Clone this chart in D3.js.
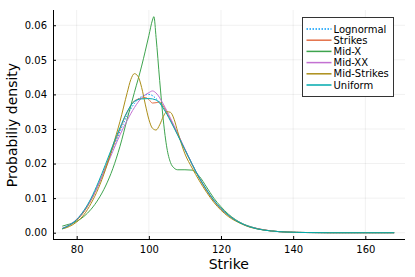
<!DOCTYPE html>
<html>
<head>
<meta charset="utf-8">
<script src="https://cdn.jsdelivr.net/npm/d3@7"></script>
<style>
  body { margin: 0; background: #fff; }
  svg { display: block; font-family: "DejaVu Sans", sans-serif; }
</style>
</head>
<body>
<div id="chart"></div>
<script>
const seriesNames = ["Lognormal", "Strikes", "Mid-X", "Mid-XX", "Mid-Strikes", "Uniform"];
const seriesColors = ["#009afa", "#e36f47", "#3ea44e", "#c371d2", "#ac8e18", "#00aaae"];

// density curves, [strike, density]
const lognormal = [[76,0.0011],[78,0.0021],[80,0.0037],[82,0.0061],[84,0.0095],[86,0.0138],[88,0.0188],[90,0.0241],[92,0.0293],[94,0.0339],[96,0.0374],[98,0.0394],[100,0.0400],[102,0.0388],[104,0.0362],[106,0.0327],[108,0.0285],[110,0.0241],[112,0.0198],[114,0.0158],[116,0.0123],[118,0.0093],[120,0.0070],[122,0.0051],[124,0.0037],[126,0.0026],[128,0.0018],[130,0.0012],[134,0.0005],[138,0.0002],[144,0.00005],[150,0],[160,0],[168,0]];
const strikes = [[76,0.0012],[78,0.0021],[80,0.0036],[82,0.0060],[84,0.0094],[86,0.0138],[88,0.0190],[90,0.0246],[92,0.0300],[94,0.0349],[96,0.0381],[98,0.0389],[99,0.0391],[100,0.0385],[101,0.0375],[102,0.0376],[103,0.0378],[104,0.0366],[106,0.0326],[108,0.0284],[110,0.0240],[112,0.0197],[114,0.0157],[116,0.0122],[118,0.0092],[120,0.0069],[122,0.0050],[124,0.0036],[126,0.0025],[128,0.0017],[130,0.0012],[134,0.0005],[138,0.0002],[144,0.00005],[150,0],[160,0],[168,0]];
const midX = [[76,0.0019],[78,0.0025],[80,0.0033],[82,0.0047],[84,0.0068],[86,0.0097],[88,0.0135],[90,0.0185],[92,0.0250],[94,0.0329],[96,0.0406],[98,0.0482],[99,0.0525],[100,0.0570],[101,0.0615],[101.4,0.0625],[102,0.0565],[103,0.0440],[104,0.0326],[105,0.0245],[106,0.0203],[107,0.0187],[108,0.0182],[110,0.0182],[112,0.0181],[114,0.0163],[116,0.0132],[118,0.0100],[120,0.0075],[122,0.0054],[124,0.0038],[126,0.0026],[128,0.0018],[130,0.0012],[134,0.0005],[138,0.0002],[144,0.00005],[150,0],[160,0],[168,0]];
const midXX = [[76,0.0013],[78,0.0023],[80,0.0039],[82,0.0064],[84,0.0097],[86,0.0139],[88,0.0186],[90,0.0235],[92,0.0283],[94,0.0325],[96,0.0362],[98,0.0390],[100,0.0405],[101,0.0410],[102,0.0404],[104,0.0372],[106,0.0331],[108,0.0287],[110,0.0242],[112,0.0199],[114,0.0159],[116,0.0124],[118,0.0094],[120,0.0070],[122,0.0051],[124,0.0036],[126,0.0025],[128,0.0017],[130,0.0012],[134,0.0005],[138,0.0002],[144,0.00005],[150,0],[160,0],[168,0]];
const midStrikes = [[76,0.0011],[78,0.0018],[80,0.0031],[82,0.0052],[84,0.0085],[86,0.0128],[88,0.0183],[90,0.0250],[92,0.0322],[94,0.0405],[95,0.0443],[96,0.0460],[97,0.0452],[98,0.0420],[99,0.0372],[100,0.0328],[101,0.0302],[102,0.0297],[103,0.0312],[104,0.0336],[105,0.0350],[106,0.0348],[107,0.0328],[108,0.0292],[110,0.0228],[112,0.0187],[114,0.0150],[116,0.0117],[118,0.0088],[120,0.0065],[122,0.0047],[124,0.0034],[126,0.0024],[128,0.0016],[130,0.0011],[134,0.0005],[138,0.0002],[144,0.00005],[150,0],[160,0],[168,0]];
const uniform = [[76,0.0012],[78,0.0022],[80,0.0038],[82,0.0064],[84,0.0100],[86,0.0146],[88,0.0198],[90,0.0252],[92,0.0304],[94,0.0350],[96,0.0380],[98,0.0387],[100,0.0388],[102,0.0384],[104,0.0360],[106,0.0323],[108,0.0282],[110,0.0240],[112,0.0198],[114,0.0158],[116,0.0124],[118,0.0094],[120,0.0070],[122,0.0051],[124,0.0036],[126,0.0025],[128,0.0017],[130,0.0011],[134,0.0005],[138,0.0002],[144,0.00005],[150,0],[160,0],[168,0]];

const xTicks = [80, 100, 120, 140, 160];
const yTicks = [0, 0.01, 0.02, 0.03, 0.04, 0.05, 0.06];

const allSeries = [lognormal, strikes, midX, midXX, midStrikes, uniform];

const width = 415;
const height = 277;
const margin = {top: 10, right: 10, bottom: 38, left: 53};

const svg = d3.select("#chart").append("svg")
    .attr("width", width)
    .attr("height", height);

svg.append("rect").attr("width", width).attr("height", height).attr("fill", "#fff");

const x = d3.scaleLinear()
    .domain([73.43, 171.0])
    .range([margin.left, width - margin.right]);

const y = d3.scaleLinear()
    .domain([-0.00182, 0.06441])
    .range([height - margin.bottom, margin.top]);

// grid
svg.append("g")
    .selectAll("line")
    .data(xTicks)
    .join("line")
    .attr("x1", d => x(d)).attr("x2", d => x(d))
    .attr("y1", margin.top).attr("y2", height - margin.bottom)
    .attr("stroke", "#000").attr("stroke-opacity", 0.1).attr("stroke-width", 0.6);

svg.append("g")
    .selectAll("line")
    .data(yTicks)
    .join("line")
    .attr("x1", margin.left).attr("x2", width - margin.right)
    .attr("y1", d => y(d)).attr("y2", d => y(d))
    .attr("stroke", "#000").attr("stroke-opacity", 0.1).attr("stroke-width", 0.6);

// axes
const xAxis = g => g
    .attr("transform", `translate(0,${height - margin.bottom})`)
    .call(d3.axisBottom(x).tickValues(xTicks).tickSizeInner(-3).tickSizeOuter(0).tickPadding(7))
    .call(g => g.select(".domain").attr("d", `M${margin.left},0.5H${width - margin.right}`).attr("stroke", "#000"))
    .attr("font-size", "10px")
    .attr("font-family", "DejaVu Sans, sans-serif");

const yAxis = g => g
    .attr("transform", `translate(${margin.left},0)`)
    .call(d3.axisLeft(y).tickValues(yTicks).tickFormat(d3.format(".2f")).tickSizeInner(-3).tickSizeOuter(0).tickPadding(6))
    .call(g => g.select(".domain").attr("d", `M0.5,${margin.top}V${height - margin.bottom}`).attr("stroke", "#000"))
    .attr("font-size", "10px")
    .attr("font-family", "DejaVu Sans, sans-serif");

svg.append("g").call(xAxis);
svg.append("g").call(yAxis);

// lines
const line = d3.line()
    .x(d => x(d[0]))
    .y(d => y(d[1]))
    .curve(d3.curveMonotoneX);

svg.append("g")
    .selectAll("path")
    .data(allSeries)
    .join("path")
    .attr("d", line)
    .attr("fill", "none")
    .attr("stroke", (d, i) => seriesColors[i])
    .attr("stroke-width", 1)
    .attr("stroke-dasharray", (d, i) => i === 0 ? "1.5,1.5" : null);

// axis titles
svg.append("text")
    .attr("x", x(100) + (x(120) - x(100)) * 0.0 + 80)
    .attr("y", 269)
    .attr("text-anchor", "middle")
    .attr("font-size", "14px")
    .text("Strike");

svg.append("text")
    .attr("transform", "translate(16.5,125) rotate(-90)")
    .attr("text-anchor", "middle")
    .attr("font-size", "14px")
    .text("Probabiliy density");

// legend
const legend = svg.append("g").attr("transform", "translate(302.5,17.5)");
legend.append("rect")
    .attr("width", 91).attr("height", 79)
    .attr("fill", "#fff").attr("stroke", "#333").attr("stroke-width", 1);

const items = legend.selectAll("g.item")
    .data(seriesNames)
    .join("g")
    .attr("class", "item")
    .attr("transform", (d, i) => `translate(0,${11.5 + i * 11.2})`);

items.append("line")
    .attr("x1", 4).attr("x2", 29)
    .attr("stroke", (d, i) => seriesColors[i])
    .attr("stroke-width", 1.5)
    .attr("stroke-dasharray", (d, i) => i === 0 ? "1.5,1.5" : null);

items.append("text")
    .attr("x", 31)
    .attr("dy", "0.35em")
    .attr("font-size", "10px")
    .text(d => d);
</script>
</body>
</html>
